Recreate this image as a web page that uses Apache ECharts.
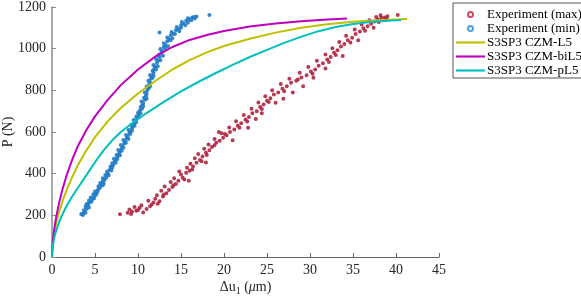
<!DOCTYPE html>
<html><head><meta charset="utf-8">
<script src="https://cdn.jsdelivr.net/npm/echarts@6/dist/echarts.min.js"></script>
<style>html,body{margin:0;padding:0;background:#fff}#c{width:581px;height:300px}</style>
</head><body><div id="c"></div>
<script>
const xTicks = [0,5,10,15,20,25,30,35,40,45];
const yTicks = [0,200,400,600,800,1000,1200];
const seriesNames = ['Experiment (max)','Experiment (min)','S3SP3 CZM-L5','S3SP3 CZM-biL5','S3SP3 CZM-pL5'];

const expMax = [[7.9,205],[8.8,212],[9.3,218],[9.0,228],[9.8,222],[10.2,236],[10.6,214],[11.0,230],[10.4,248],[11.4,244],[11.8,262],[11.2,270],[12.0,280],[12.5,268],[12.2,296],[12.9,290],[13.3,306],[12.7,318],[13.6,322],[13.1,338],[14.0,336],[14.4,350],[13.8,360],[14.7,366],[14.2,378],[15.2,380],[15.0,396],[15.6,404],[14.8,410],[16.0,414],[15.7,428],[16.4,434],[16.1,448],[16.8,452],[17.2,466],[16.6,474],[17.5,482],[17.0,494],[17.9,500],[18.3,512],[17.7,520],[18.6,528],[18.2,540],[19.1,548],[19.5,558],[18.9,566],[19.9,572],[20.3,584],[19.7,594],[20.7,600],[21.2,612],[20.6,622],[21.6,630],[22.0,642],[21.4,652],[22.5,660],[22.9,672],[22.3,682],[23.3,690],[23.8,700],[23.2,712],[24.2,720],[24.6,732],[24.0,742],[25.0,750],[25.4,762],[24.8,772],[25.8,780],[26.3,790],[25.6,800],[26.8,808],[27.3,820],[26.6,830],[27.8,836],[28.4,846],[27.6,856],[29.0,862],[29.6,872],[28.8,884],[30.1,890],[30.6,900],[29.8,912],[31.0,918],[31.5,930],[30.8,942],[32.0,948],[32.4,960],[31.8,972],[32.8,980],[33.2,992],[32.6,1002],[33.6,1010],[34.0,1022],[33.4,1032],[34.4,1040],[34.9,1052],[34.2,1062],[35.3,1070],[35.8,1082],[35.2,1092],[36.2,1098],[36.7,1108],[36.0,1116],[37.1,1120],[37.5,1130],[36.9,1136],[37.9,1140],[38.3,1148],[37.7,1152],[38.7,1150],[39.0,1156],[38.2,1160],[40.2,1162],
[9.6,240],[12.3,256],[15.9,366],[17.9,454],[19.4,600],[22.8,620],[24.4,690],[26.0,740],[28.0,790],[30.4,860],[31.8,905],[26.9,760],[33.8,965],[35.6,1040],[37.4,1100],[29.2,820],[23.7,662],[21.0,560],
[9.2,206],[10.0,226],[11.6,252],[13.0,300],[14.1,344],[15.4,372],[16.3,420],[17.4,460],[18.0,490],[18.9,536],[20.1,590],[21.8,620],[22.7,650],[24.4,710],[25.2,744],[27.0,796],[28.6,852],[30.3,880],[32.2,936],[33.0,970],[34.7,1030],[36.4,1086],[38.0,1128],[38.9,1144]];

const expMin = [[3.6,202],[3.5,208],[3.8,215],[3.7,224],[4.0,230],[3.9,241],[4.2,248],[4.1,256],[4.4,262],[4.3,271],[4.7,278],[4.5,286],[4.9,292],[4.8,301],[5.2,306],[5.0,314],[5.3,322],[5.5,330],[5.4,340],[5.7,346],[5.6,355],[5.9,362],[6.1,370],[5.9,378],[6.3,386],[6.2,394],[6.5,400],[6.4,410],[6.7,418],[6.9,425],[6.8,434],[7.1,441],[7.0,450],[7.3,458],[7.4,466],[7.2,472],[7.6,480],[7.5,490],[7.8,497],[7.9,506],[7.7,514],[8.1,520],[8.2,530],[8.0,538],[8.4,545],[8.5,554],[8.3,562],[8.7,570],[8.8,578],[8.6,586],[9.0,594],[9.1,602],[8.9,610],[9.3,618],[9.4,627],[9.2,634],[9.6,642],[9.7,650],[9.5,658],[9.9,666],[9.8,675],[10.1,684],[10.0,692],[10.2,702],[10.4,710],[10.3,720],[10.5,728],[10.6,738],[10.4,746],[10.8,755],[10.7,764],[10.9,772],[11.0,782],[10.8,790],[11.1,800],[11.2,810],[11.0,818],[11.3,828],[11.4,838],[11.2,846],[11.5,856],[11.6,866],[11.4,874],[11.8,884],[11.7,894],[11.9,904],[12.0,914],[11.8,922],[12.2,932],[12.3,942],[12.1,950],[12.5,960],[12.4,970],[12.7,980],[12.8,990],[12.6,998],[13.0,1008],[13.2,1018],[13.0,1026],[13.4,1036],[13.6,1046],[13.4,1054],[13.8,1064],[14.1,1072],[13.9,1080],[14.4,1088],[14.7,1096],[14.5,1104],[15.0,1112],[15.3,1120],[15.1,1128],[15.6,1134],[16.0,1140],[15.8,1146],[16.3,1150],[16.8,1155],[16.5,1152],[12.5,1078],[18.3,1162],
[3.9,212],[4.3,238],[4.6,266],[5.1,298],[5.6,336],[6.0,352],[6.6,392],[7.0,430],[7.6,470],[8.1,510],[8.6,548],[9.1,590],[9.6,630],[10.1,672],[10.5,715],[11.0,760],[11.3,815],[11.7,860],[12.1,900],[12.6,945],[13.2,1000],[13.8,1040],[14.3,1070],[15.0,1100],[15.8,1125],[16.6,1145],
[3.4,205],[4.0,252],[4.9,282],[5.3,316],[5.9,344],[6.3,380],[6.9,415],[7.4,452],[7.9,488],[8.3,525],[8.9,566],[9.3,606],[9.8,648],[10.3,690],[10.6,724],[10.9,764],[11.4,820],[11.8,870],[12.3,916],[12.9,966],[13.5,1012],[14.0,1050],[14.8,1084],[15.5,1112],[16.2,1136]];

const czmL5 = [[0,0],[0.05,46],[0.15,84],[0.3,124],[0.5,164],[0.8,212],[1.2,265],[1.7,321],[2.3,379],[3,440],[4,512],[5,575],[6.5,652],[8,715],[10,785],[12,845],[14,900],[16,945],[18,982],[20,1013],[23,1048],[26,1077],[29,1100],[32,1117],[35,1129],[38,1137],[41.3,1142]];
const czmBiL5 = [[0,0],[0.05,53],[0.15,98],[0.3,146],[0.5,195],[0.8,255],[1.2,322],[1.7,392],[2.3,462],[3,532],[4,610],[5,675],[6.5,755],[8,825],[10,900],[12,962],[14,1008],[16,1042],[18,1066],[20,1085],[23,1106],[26,1121],[29,1132],[32,1140],[34.3,1145]];
const czmPL5 = [[0,0],[0.05,38],[0.15,68],[0.3,98],[0.5,128],[0.8,164],[1.2,204],[1.7,245],[2.3,288],[3,331],[4,393],[5,455],[6,512],[7,560],[8,600],[9.5,648],[11,691],[13,745],[15,795],[17,840],[19,882],[21,922],[23,960],[25,994],[27,1028],[29,1058],[31,1084],[33,1104],[35,1118],[37,1128],[39,1134],[40.6,1137]];

const colors = ['#A2142F','#0072BD','#BFBF00','#BF00BF','#00BFBF'];
const font = 'Liberation Serif, Times New Roman, serif';
const lineIcon = 'path://M0 0H30V2.2H0Z';

const chart = echarts.init(document.getElementById('c'), null, {renderer:'canvas'});
chart.setOption({
  animation:false,
  backgroundColor:'#fff',
  textStyle:{fontFamily:font},
  grid:{left:52, top:7, width:387, height:250, containLabel:false, outerBoundsMode:'none'},
  legend:{
    orient:'vertical', left:453, top:3,
    data:[
      {name:seriesNames[0], icon:'emptyCircle', itemStyle:{color:'#c8344f', borderWidth:1}},
      {name:seriesNames[1], icon:'emptyCircle', itemStyle:{color:'#3a98d8', borderWidth:1}},
      {name:seriesNames[2], icon:lineIcon, itemStyle:{color:colors[2]}},
      {name:seriesNames[3], icon:lineIcon, itemStyle:{color:colors[3]}},
      {name:seriesNames[4], icon:lineIcon, itemStyle:{color:colors[4]}}
    ],
    itemWidth:29, itemHeight:5, itemGap:1,
    padding:[5,3,1,3],
    borderColor:'#262626', borderWidth:0.8,
    textStyle:{fontFamily:font, fontSize:13, color:'#000', padding:[0,0,0,-3]}
  },
  xAxis:{
    type:'value', min:0, max:45, interval:5,
    name:'{a|Δu}{s|1}{a| (}{i|μ}{a|m)}', nameLocation:'middle', nameGap:21, nameMoveOverlap:false,
    nameTextStyle:{rich:{a:{fontFamily:font,fontSize:14,color:'#262626'},s:{fontFamily:font,fontSize:10,color:'#262626',padding:[8,0,0,0]},i:{fontFamily:font,fontSize:14,fontStyle:'italic',color:'#262626'}}},
    axisLine:{show:true, lineStyle:{color:'#666',width:1}},
    axisTick:{show:true, inside:true, length:4, lineStyle:{color:'#666'}},
    axisLabel:{fontFamily:font, fontSize:14, color:'#262626', margin:6, formatter:v=>String(v)},
    splitLine:{show:false}
  },
  yAxis:{
    type:'value', min:0, max:1200, interval:200,
    name:'P (N)', nameLocation:'middle', nameGap:37, nameMoveOverlap:false,
    nameTextStyle:{fontFamily:font, fontSize:14, color:'#262626'},
    axisLine:{show:true, lineStyle:{color:'#8a8a8a',width:1.5}},
    axisTick:{show:true, inside:true, length:4, lineStyle:{color:'#8a8a8a'}},
    axisLabel:{fontFamily:font, fontSize:14, color:'#262626', margin:6, formatter:v=>String(v)},
    splitLine:{show:false}
  },
  series:[
    {name:seriesNames[0], type:'scatter', data:expMax, symbol:'emptyCircle', symbolSize:2,
     itemStyle:{color:'#B0243F', borderWidth:0.9, opacity:0.9}, z:2},
    {name:seriesNames[1], type:'scatter', data:expMin, symbol:'emptyCircle', symbolSize:2,
     itemStyle:{color:'#1f7ac4', borderWidth:0.9, opacity:0.9}, z:2},
    {name:seriesNames[2], type:'line', data:czmL5, smooth:false, showSymbol:false, symbol:'none',
     lineStyle:{color:colors[2], width:2}, itemStyle:{color:colors[2]}, z:3},
    {name:seriesNames[3], type:'line', data:czmBiL5, smooth:false, showSymbol:false, symbol:'none',
     lineStyle:{color:colors[3], width:2}, itemStyle:{color:colors[3]}, z:3},
    {name:seriesNames[4], type:'line', data:czmPL5, smooth:false, showSymbol:false, symbol:'none',
     lineStyle:{color:colors[4], width:2}, itemStyle:{color:colors[4]}, z:3}
  ]
});
</script></body></html>
